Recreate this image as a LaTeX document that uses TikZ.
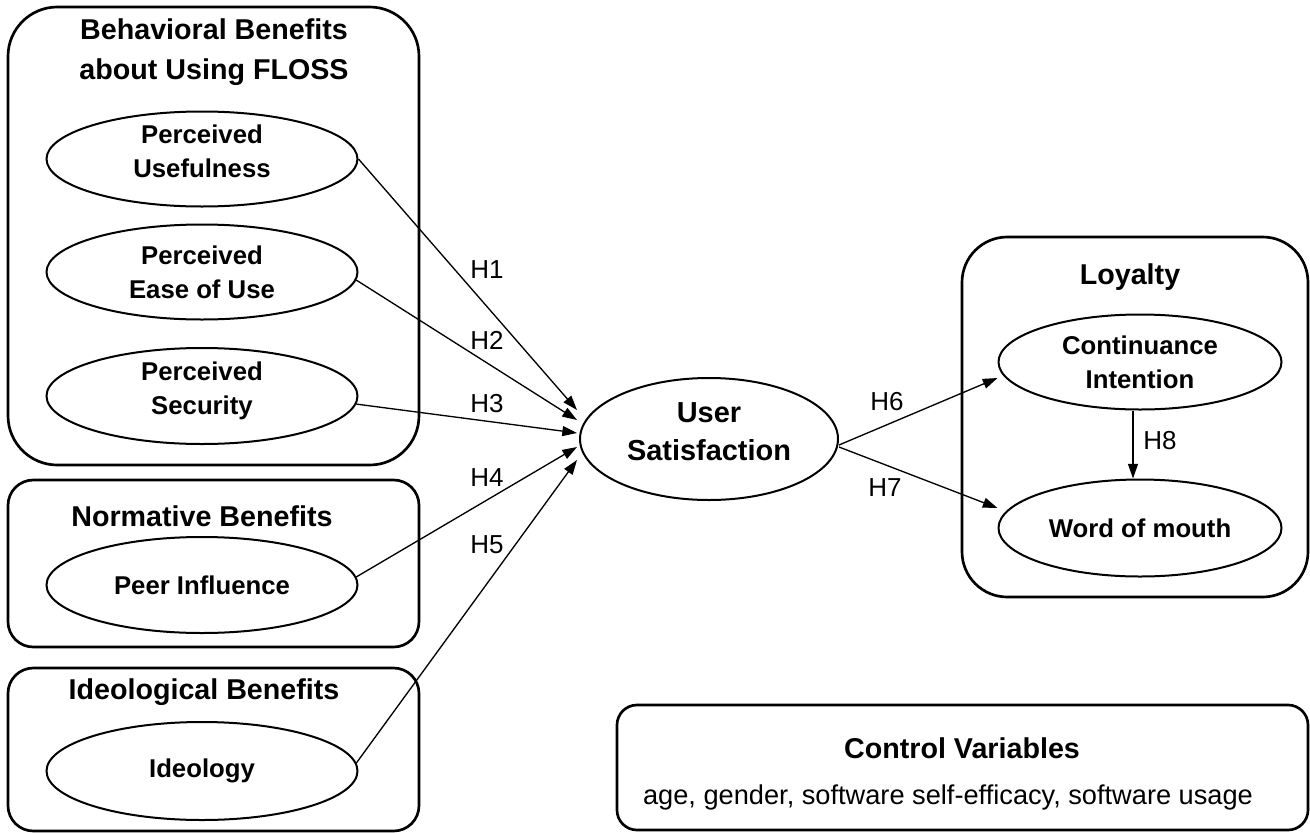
\documentclass[tikz,border=0pt]{standalone}
\usepackage{fontspec}
\setmainfont{Liberation Sans}
\usetikzlibrary{shapes.geometric,arrows.meta,calc}
\newcommand{\uplines}[2]{\raisebox{#1}[0pt][0pt]{\begin{tabular}{@{}c@{}}#2\end{tabular}}}
\begin{document}
\begin{tikzpicture}[x=0.75pt,y=-0.75pt,
  grp/.style={draw, line width=2pt, rounded corners=#1pt, inner sep=0pt},
  sz/.style 2 args={minimum width=#1*0.75pt, minimum height=#2*0.75pt},
  ell/.style={draw, ellipse, line width=1.5pt, inner sep=0pt, align=center,
              font=\bfseries\fontsize{19.3}{25.5}\selectfont},
  ttl/.style={align=center, font=\bfseries\fontsize{21.5}{30}\selectfont},
  hyp/.style={font=\fontsize{19.5}{22}\selectfont},
  arr/.style={-{Triangle[length=11pt,width=7.5pt]}, line width=1pt}
]
\useasboundingbox (0,0) rectangle (1310,832);

% Behavioral group
\node[grp=37, sz={411}{458}] (beh) at (213.5,236) {};
\node[ttl] (behT) at (214,52) {Behavioral Benefits\\about Using FLOSS};
\node[ell, sz={311}{95}] (pu) at (202,159) {\uplines{-1.2pt}{Perceived\\Usefulness}};
\node[ell, sz={311}{95}] (peou) at (202,272) {Perceived\\Ease of Use};
\node[ell, sz={311}{96}] (ps) at (202,396) {\uplines{-1.5pt}{Perceived\\Security}};

% Normative group
\node[grp=19, sz={411}{167}] (norm) at (213.5,563.5) {};
\node[ttl] (normT) at (202,516) {Normative Benefits};
\node[ell, sz={311}{96}] (pi) at (202,585) {Peer Influence};

% Ideological group
\node[grp=19, sz={411}{163}] (ideo) at (213.5,749.5) {};
\node[ttl] (ideoT) at (204,692) {Ideological Benefits};
\node[ell, sz={311}{98}] (id) at (202,771) {Ideology};

% User satisfaction
\node[ell, sz={258}{122}, font=\bfseries\fontsize{21.7}{28.5}\selectfont] (us) at (709,439) {\uplines{-1pt}{User\\Satisfaction}};

% Loyalty group
\node[grp=34, sz={346}{360}] (loy) at (1135,417) {};
\node[ttl] (loyT) at (1130,277) {Loyalty};
\node[ell, sz={283}{95}] (ci) at (1140,362) {Continuance\\Intention};
\node[ell, sz={283}{97}] (wom) at (1140,528) {Word of mouth};

% Control variables
\node[grp=15, sz={691}{125}] (ctl) at (962.5,767.5) {};
\node[ttl] (ctlT) at (962,748) {Control Variables};
\node[font=\fontsize{20.4}{24}\selectfont] (ctlS) at (948,797) {age, gender, software self-efficacy, software usage};

% Connectors
\draw[arr] (pu.east) -- ($(us.west)+(-2,-29)$);
\draw[arr] (peou.-3) -- ($(us.west)+(-2,-19)$);
\draw[arr] (ps.-3) -- ($(us.west)+(-2,-6)$);
\draw[arr] (pi.3) -- ($(us.west)+(-2,8)$);
\draw[arr] (id.3) -- ($(us.west)+(-2,21)$);
\draw[arr] ($(us.east)+(0,6)$) -- ($(ci.west)+(0,16)$);
\draw[arr] ($(us.east)+(0,8)$) -- ($(wom.west)+(0,-20)$);
\draw[arr] ($(ci.south)+(-7,0)$) -- ($(wom.north)+(-7,0)$);

% Hypothesis labels
\node[hyp] (h1) at (487,270) {H1};
\node[hyp] (h2) at (487,340) {H2};
\node[hyp] (h3) at (487,404) {H3};
\node[hyp] (h4) at (487,478) {H4};
\node[hyp] (h5) at (487,545) {H5};
\node[hyp] (h6) at (887,402) {H6};
\node[hyp] (h7) at (885,488) {H7};
\node[hyp] (h8) at (1160,441) {H8};
\end{tikzpicture}
\end{document}
